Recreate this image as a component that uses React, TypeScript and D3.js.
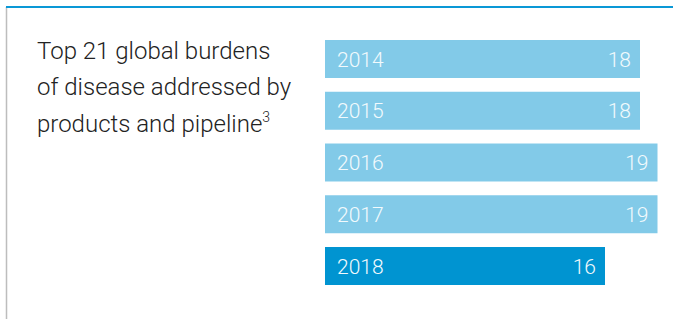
import React from "react";
import * as d3 from "d3";

const years = ["2014", "2015", "2016", "2017", "2018"];
const values = [18, 18, 19, 19, 16];
const highlight = ["2018"];
const titleLines = ["Top 21 global burdens", "of disease addressed by", "products and pipeline"];
const titleSup = "3";

export default function App() {
  const W = 673, H = 319;
  const x = d3.scaleLinear().domain([0, 20]).range([325, 675]);
  const y = d3.scaleBand().domain(years).range([40, 285]).paddingInner(0.266).paddingOuter(0);
  const font = "Roboto, 'Noto Sans', sans-serif";
  return (
    <svg width={W} height={H} style={{ position: "absolute", left: 0, top: 0 }} fontFamily={font}>
      <rect x={0} y={0} width={W} height={H} fill="#fff" />
      <line x1={6.5} x2={6.5} y1={7} y2={H} stroke="#BDBDBD" strokeWidth={1.5} />
      <line x1={6} x2={W} y1={7} y2={7} stroke="#0A98D6" strokeWidth={2} />
      <text fill="#222" fontSize={24} fontWeight={300}>
        {titleLines.map((t, i) => (
          <tspan key={i} x={37} y={58.5 + i * 36.8}>
            {t}
            {i === titleLines.length - 1 ? (
              <tspan fontSize={14} dy={-10}>{titleSup}</tspan>
            ) : null}
          </tspan>
        ))}
      </text>
      {years.map((yr, i) => {
        const y0 = y(yr)!;
        const bw = y.bandwidth();
        const hi = highlight.includes(yr);
        return (
          <g key={yr}>
            <rect x={x(0)} y={y0} width={x(values[i]) - x(0)} height={bw} fill={hi ? "#0094D1" : "#82CAE8"} />
            <text x={x(0) + 12} y={y0 + bw / 2} dy="0.36em" fill="#F2FAFD" fontSize={21} fontWeight={300}>{yr}</text>
            <text x={x(values[i]) - 9} y={y0 + bw / 2} dy="0.36em" textAnchor="end" fill="#F2FAFD" fontSize={21} fontWeight={300}>{values[i]}</text>
          </g>
        );
      })}
    </svg>
  );
}
